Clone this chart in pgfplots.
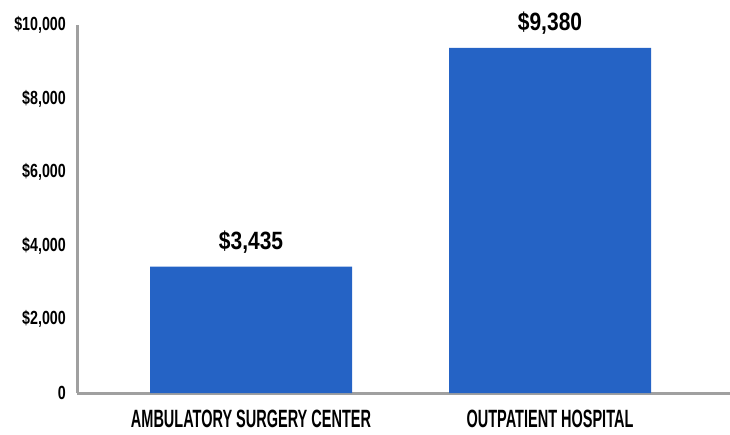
\documentclass[border=0pt]{standalone}
\usepackage{pgfplots}
\pgfplotsset{compat=1.18}
\usepackage{fontspec}
\setmainfont{Liberation Sans}
\newfontfamily\tickfont{Liberation Sans}[FakeStretch=0.75]
\newfontfamily\catfont{Liberation Sans}[FakeStretch=0.58]
\newfontfamily\valfont{Liberation Sans}[FakeStretch=0.84]
\definecolor{barblue}{RGB}{37,99,197}
\definecolor{axgray}{RGB}{160,160,160}
\begin{document}
\begin{tikzpicture}[x=1pt,y=1pt]
\path[use as bounding box] (0,0) rectangle (730,434);
\begin{axis}[
  at={(77pt,41pt)}, anchor=south west,
  width=653pt, height=368pt, scale only axis,
  xmin=-0.582, xmax=1.602, ymin=0, ymax=10000,
  axis x line*=bottom, axis y line*=left,
  axis line style={draw=axgray, line width=3pt},
  scaled y ticks=false,
  xtick={0,1},
  xticklabels={AMBULATORY SURGERY CENTER, OUTPATIENT HOSPITAL},
  ytick={0,2000,4000,6000,8000,10000},
  yticklabels={0,{\$2,000},{\$4,000},{\$6,000},{\$8,000},{\$10,000}},
  major tick length=0pt,
  tick style={draw=none},
  yticklabel style={font=\tickfont\bfseries\fontsize{19}{19}\selectfont, anchor=east, inner sep=0pt, xshift=-11pt},
  xticklabel style={font=\catfont\bfseries\fontsize{25}{25}\selectfont, anchor=north, inner sep=0pt, yshift=-17pt},
  ybar, bar width=202pt,
  clip=false,
  point meta=y,
  nodes near coords={\$\pgfmathprintnumber[assume math mode=true,1000 sep={,}]{\pgfplotspointmeta}},
  every node near coord/.append style={font=\valfont\bfseries\fontsize{25}{25}\selectfont, anchor=base, inner sep=0pt, yshift=17pt, text=black},
]
\addplot[fill=barblue, draw=none] coordinates {(0,3435) (1,9380)};
\end{axis}
\end{tikzpicture}
\end{document}
